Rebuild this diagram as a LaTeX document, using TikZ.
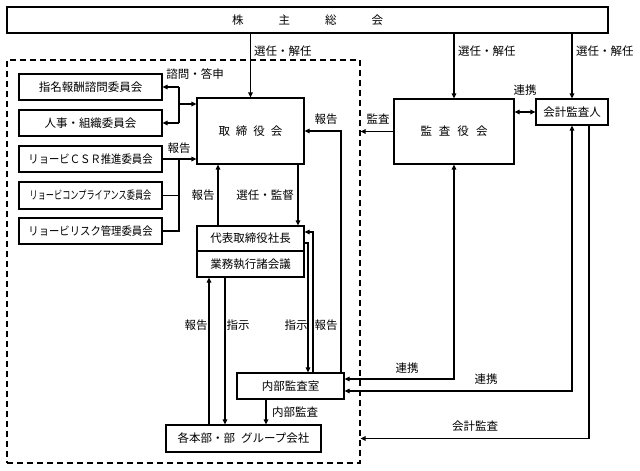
\documentclass[tikz,border=0pt]{standalone}
\usepackage{fontspec}
\usepackage{graphicx}
\setmainfont{Noto Sans CJK JP}
\usetikzlibrary{arrows.meta}
\begin{document}
\begin{tikzpicture}[x=1pt,y=-1pt,
  every node/.style={font=\fontsize{11.5}{13}\selectfont, inner sep=0pt},
  box/.style={draw, line width=1.2pt, align=center},
  conn/.style={line width=1.2pt},
  arr/.style={conn, -{Triangle[length=5pt,width=4.5pt]}},
  darr/.style={conn, {Triangle[length=5pt,width=4.5pt]}-{Triangle[length=5pt,width=4.5pt]}},
  cbox/.style={box, minimum width=143pt, minimum height=26pt},
]
\useasboundingbox (0,0) rectangle (640,471);

% boxes
\node[box, minimum width=601pt, minimum height=26pt] (sh) at (307.5,20) {株\hspace{35pt}主\hspace{35pt}総\hspace{35pt}会};
\node[draw, line width=1.2pt, dash pattern=on 6pt off 4pt, minimum width=353pt, minimum height=403pt] (grp) at (183.5,261.5) {};

\node[cbox] (c1) at (90.5,87) {指名報酬諮問委員会};
\node[cbox] (c2) at (90.5,123) {人事・組織委員会};
\node[cbox] (c3) at (90.5,159) {\scalebox{0.9}[1]{リョービＣＳＲ推進委員会}};
\node[cbox, minimum height=27pt] (c4) at (90.5,195.5) {\scalebox{0.71}[1]{リョービコンプライアンス委員会}};
\node[cbox] (c5) at (90.5,231) {\scalebox{0.9}[1]{リョービリスク管理委員会}};

\node[box, minimum width=107pt, minimum height=66pt] (bd) at (250.5,131) {取\hspace{6pt}締\hspace{6pt}役\hspace{6pt}会};
\node[box, minimum width=107pt, minimum height=25pt] (ceo) at (250.5,238.5) {代表取締役社長};
\node[box, minimum width=107pt, minimum height=26pt] (mtg) at (250.5,264) {業務執行諸会議};
\node[box, minimum width=107pt, minimum height=26pt] (ia) at (290.5,386) {内部監査室};
\node[box, minimum width=155pt, minimum height=27pt] (bu) at (243.5,438.5) {各本部・部\hspace{6pt}グループ会社};

\node[box, minimum width=120pt, minimum height=65pt] (kan) at (454,131.5) {監\hspace{7pt}査\hspace{7pt}役\hspace{7pt}会};
\node[box, minimum width=72pt, minimum height=26pt] (aud) at (572,112) {会計監査人};

% connectors from shareholders
\draw[arr] (sh.south -| bd.north) -- (bd.north);
\draw[arr] (sh.south -| kan.north) -- (kan.north);
\draw[arr] (sh.south -| aud.north) -- (aud.north);
\node[anchor=west] (l1) at (254,51) {選任・解任};
\node[anchor=west] (l2) at (458,51) {選任・解任};
\node[anchor=west] (l3) at (576,51) {選任・解任};

% committees (advisory)
\coordinate (j1) at (179,104);
\coordinate (j2) at (179,159);
\draw[arr] (j1) -- (j1 -| bd.west);
\draw[arr] (j1 |- c1.east) -- (c1.east);
\draw[conn] (j1 |- c1.east) -- (j1 |- c2.east);
\draw[arr] (j1 |- c2.east) -- (c2.east);
\node (l4) at (195,74) {諮問・答申};

% committees (report)
\draw[arr] (c3.east) -- (c3.east -| bd.west);
\draw[conn] (c3.east -| j2) -- (c5.east -| j2) -- (c5.east);
\draw[conn] (c4.east) -- (c4.east -| j2);
\node (l5) at (179,148) {報告};

% board <-> president
\draw[arr] ([xshift=-32.5pt]bd.south |- ceo.north) -- ([xshift=-32.5pt]bd.south);
\draw[arr] ([xshift=47.5pt]bd.south) -- ([xshift=47.5pt]bd.south |- ceo.north);
\node (l6) at (203,195) {報告};
\node (l7) at (265,195) {選任・監督};

% meetings <-> business units
\draw[arr] ([xshift=-41.5pt]mtg.south |- bu.north) -- ([xshift=-41.5pt]mtg.south);
\draw[arr] ([xshift=-25.5pt]mtg.south) -- ([xshift=-25.5pt]mtg.south |- bu.north);
\node (l8) at (196,325) {報告};
\node (l9) at (238,325) {指示};

% president <-> internal audit
\draw[arr] ([yshift=-4.5pt]ceo.east) -| ([xshift=17.5pt]ia.north);
\draw[arr] ([xshift=22.5pt]ia.north) |- ([yshift=6.5pt]ceo.east);
\node (l10) at (296,325) {指示};
\node (l11) at (326,325) {報告};

% internal audit -> board
\draw[arr] ([xshift=50.5pt]ia.north) |- (bd.east);
\node (l12) at (326,119) {報告};

% internal audit -> business units
\draw[arr] ([xshift=-24.5pt]ia.south) -- ([xshift=-24.5pt]ia.south |- bu.north);
\node (l13) at (295,412) {内部監査};

% audit board
\draw[arr] (kan.west) -- (kan.west -| grp.east);
\node (l14) at (378,119) {監査};
\draw[darr] (kan.east |- aud.west) -- (aud.west);
\node (l15) at (525,90) {連携};
\draw[darr] ([yshift=7pt]ia.east) -| (kan.south);
\node (l16) at (407,368) {連携};
\draw[darr] ([yshift=-5pt]ia.east) -| (aud.south);
\node (l17) at (486,379) {連携};
\draw[arr] ([xshift=17pt]aud.south) |- (bu.east -| grp.east);
\node (l18) at (475,426) {会計監査};
\end{tikzpicture}
\end{document}
